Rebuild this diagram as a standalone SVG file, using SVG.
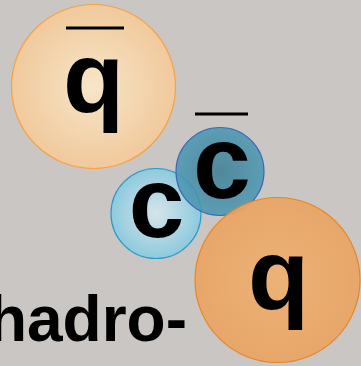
<svg xmlns="http://www.w3.org/2000/svg" width="361" height="366" viewBox="0 0 361 366">
<defs>
<radialGradient id="gPeach" cx="50%" cy="50%" r="50%">
<stop offset="0" stop-color="#f6e6c8"/>
<stop offset="1" stop-color="#f1c99c"/>
</radialGradient>
<radialGradient id="gOrange" cx="50%" cy="50%" r="50%">
<stop offset="0" stop-color="#efb070"/>
<stop offset="1" stop-color="#eba462"/>
</radialGradient>
<radialGradient id="gLight" cx="50%" cy="50%" r="50%">
<stop offset="0" stop-color="#d6e4ea"/>
<stop offset="1" stop-color="#8ecadd"/>
</radialGradient>
<radialGradient id="gDark" cx="50%" cy="50%" r="50%">
<stop offset="0" stop-color="#3f7f93"/>
<stop offset="1" stop-color="#4d98b4"/>
</radialGradient>
<style>
.lbl{font-family:"Liberation Sans",Arial,sans-serif;font-weight:bold;fill:#000;}
.bar{stroke:#000;stroke-width:3;}
</style>
</defs>
<rect width="361" height="366" fill="#c9c6c3"/>
<g id="antiquark">
<circle cx="93.5" cy="86.5" r="82" fill="url(#gPeach)" stroke="#f5a244" stroke-width="1.2"/>
<text class="lbl" x="93.5" y="112" font-size="100" text-anchor="middle">q</text>
<line class="bar" x1="66" y1="28" x2="124" y2="28"/>
</g>
<g id="charm">
<circle cx="156" cy="213.5" r="45" fill="url(#gLight)" stroke="#2b9acb" stroke-width="1.2"/>
<text class="lbl" x="156.5" y="237" font-size="100" text-anchor="middle">c</text>
</g>
<g id="anticharm">
<circle cx="220" cy="171.5" r="44" fill="url(#gDark)" fill-opacity="0.88" stroke="#3a6bb5" stroke-width="1.2"/>
<text class="lbl" x="222" y="198" font-size="104" text-anchor="middle">c</text>
<line class="bar" x1="195" y1="114" x2="248" y2="114"/>
</g>
<g id="quark">
<circle cx="277.5" cy="280" r="82.5" fill="url(#gOrange)" fill-opacity="0.92" stroke="#ea8420" stroke-width="1.2"/>
<text class="lbl" x="278.5" y="309" font-size="100" text-anchor="middle">q</text>
</g>
<g id="label">
<text class="lbl" x="187" y="341" font-size="64" text-anchor="end">hadro-</text>
</g>
</svg>
